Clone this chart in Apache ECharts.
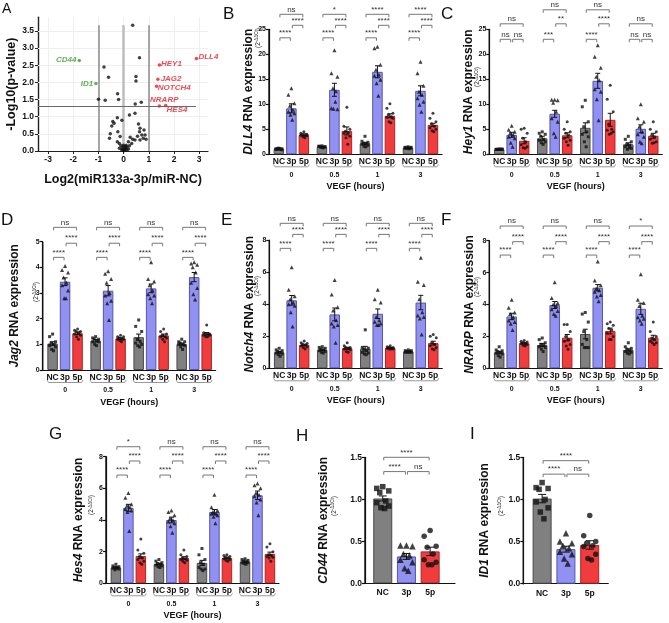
<!DOCTYPE html>
<html><head><meta charset="utf-8">
<script src="https://cdn.jsdelivr.net/npm/echarts@6/dist/echarts.min.js"></script>
<style>html,body{margin:0;padding:0;background:#fff}#c{width:669px;height:623px}</style>
</head><body><div id="c"></div>
<script>
// ---------------- DATA ----------------
const conditions = ['NC', '3p', '5p'];
const vegfHours = ['0', '0.5', '1', '3'];

// Panel A: volcano
const volcanoPoints = [[0.36,3.67],[0.63,2.72],[-0.78,2.45],[0.49,2.17],[-0.60,2.15],[0.49,2.04],[-0.24,1.67],[-1.0,1.51],[-0.73,1.48],[-0.20,1.50],[0.70,1.42],[0.46,1.37],
 [0.45,1.10],[0.23,1.05],[-0.25,0.97],[-0.07,0.90],[-0.43,0.86],[-0.38,0.81],[-0.47,0.73],[0.59,0.79],[0.65,0.66],[-0.53,0.50],[-0.23,0.56],[0.63,0.56],[0.81,0.61],
 [-0.56,0.37],[-0.14,0.42],[0.26,0.40],[0.36,0.34],[0.45,0.32],[0.72,0.47],[0.78,0.37],[0.89,0.34],[0.65,0.32],[0.19,0.27],[-0.17,0.22],[-0.01,0.17],[-0.11,0.15],
 [0.10,0.17],[0.23,0.15],[0.32,0.22],[-0.25,0.27],[-0.03,0.11],[0.06,0.08],[0.13,0.11],[0.03,0.03],[0.13,0.03],[-0.04,0.06],[0.01,0.01],[0.19,0.06],[-0.17,0.08],
 [0.85,0.47],[0.55,0.43],[0.08,0.13],[-0.08,0.04],[0.05,0.05]];
const upGenes = ['DLL4','HEY1','JAG2','NOTCH4','NRARP','HES4'];
const upLog2FC = [2.89,1.42,1.36,1.31,1.42,1.67];
const upNegLogP = [2.70,2.51,2.09,1.89,1.31,1.33];
const downGenes = ['CD44','ID1'];
const downLog2FC = [-1.76,-1.10];
const downNegLogP = [2.64,1.97];
const pThreshold = 1.3;
const fcThresholds = [-1, 0, 1];
const volcanoXTicks = [-3,-2,-1,0,1,2,3];
const volcanoYTicks = [0,0.5,1,1.5,2,2.5,3,3.5];

// Panel B: DLL4  [group][NC,3p,5p]
const dll4Mean = [[1.1,9.2,3.9],[1.5,12.9,4.67],[2.2,16.5,7.7],[1.3,12.7,5.9]];
const dll4Sem  = [[0.05,0.9,0.2],[0.06,1.3,0.8],[0.2,1.2,0.4],[0.05,1.0,0.3]];
const dll4Points = [
 [[1.2,1.1,1.1,1.0,1.0,1.0,0.9,1.2,1.1],[13.2,11.9,10.2,9.7,8.9,8.5,8.2,7.9,6.9],[4.5,4.2,4.0,3.9,3.8,3.8,3.7,3.5,3.3]],
 [[1.7,1.6,1.5,1.5,1.4,1.6,1.5,1.4,1.3],[20.8,16.2,15.5,13.2,12.6,9.2,9.0,9.1,10.5],[9.4,5.6,5.0,4.6,4.3,4.2,3.6,3.3,2.0]],
 [[3.6,2.6,2.4,2.2,2.1,2.0,1.8,1.6,1.5],[21.5,21.2,17.9,16.9,15.9,15.7,14.9,14.2,11.7],[10.1,9.2,8.2,7.9,7.5,7.4,7.2,6.5,6.3]],
 [[1.5,1.4,1.4,1.3,1.3,1.2,1.2,1.2,1.1],[18.5,16.2,13.7,12.5,11.9,11.2,10.5,9.9,8.5],[8.2,7.2,6.5,6.1,5.6,5.3,5.0,4.7,4.5]]];
const dll4Sig = [[0,0,2,28.0,'ns'],[0,1,2,25.8,'****'],[0,0,1,23.3,'****'],
 [1,0,2,28.0,'*'],[1,1,2,25.8,'****'],[1,0,1,23.3,'****'],
 [2,0,2,28.0,'****'],[2,1,2,25.8,'****'],[2,0,1,23.3,'****'],
 [3,0,2,28.0,'****'],[3,1,2,25.8,'****'],[3,0,1,23.3,'****']];

// Panel C: Hey1
const hey1Mean = [[1.0,3.9,2.7],[3.2,8.1,3.8],[5.3,14.7,6.9],[2.0,5.1,3.7]];
const hey1Sem  = [[0.03,0.5,0.6],[0.4,0.7,0.5],[1.0,1.5,1.3],[0.3,0.8,0.5]];
const hey1Points = [
 [[1.05,1.0,1.0,0.98,1.0,0.97,1.02,1.0,0.99],[5.7,4.9,4.5,4.2,3.9,3.5,3.2,2.3,1.5],[5.2,5.0,4.2,3.2,2.5,1.9,1.5,1.3,1.2]],
 [[4.5,4.2,4.0,3.6,3.0,2.8,2.5,2.3,2.0],[10.9,10.9,10.8,10.3,8.5,7.2,6.5,4.2,3.5],[6.5,5.0,4.5,4.2,3.8,3.2,2.8,2.5,1.8]],
 [[10.8,9.5,6.5,5.5,4.5,4.0,3.5,2.5,1.5],[21.8,19.5,17.3,15.5,14.8,13.0,12.5,11.0,6.8],[13.8,11.0,8.5,6.0,5.0,4.8,4.5,4.0,4.2]],
 [[3.6,3.0,2.5,2.0,1.8,1.5,1.2,1.0,1.3],[10.0,7.2,6.5,5.5,4.5,4.0,3.5,2.5,2.2],[6.5,5.0,4.5,3.8,3.5,3.0,2.5,2.2,2.3]]];
const hey1Sig = [[0,0,2,26.1,'ns'],[0,0,1,23.0,'ns'],[0,1,2,23.0,'ns'],
 [1,0,2,28.9,'ns'],[1,1,2,26.1,'**'],[1,0,1,23.0,'***'],
 [2,0,2,28.9,'ns'],[2,1,2,26.1,'****'],[2,0,1,23.0,'****'],
 [3,0,2,26.1,'ns'],[3,0,1,23.0,'ns'],[3,1,2,23.0,'ns']];

// Panel D: Jag2
const jag2Mean = [[1.03,3.44,1.43],[1.14,3.09,1.23],[1.28,3.18,1.35],[1.01,3.62,1.41]];
const jag2Sem  = [[0.07,0.15,0.05],[0.05,0.2,0.03],[0.12,0.17,0.05],[0.04,0.18,0.05]];
const jag2Points = [
 [[1.4,1.3,1.1,1.05,1.0,0.95,0.9,0.8,0.75],[4.05,3.9,3.8,3.6,3.4,3.3,3.1,2.8,2.8],[1.6,1.55,1.5,1.5,1.45,1.4,1.35,1.3,1.2]],
 [[1.3,1.25,1.2,1.2,1.15,1.1,1.1,1.0,0.95],[3.85,3.75,3.55,3.4,3.0,2.9,2.7,2.6,1.95],[1.35,1.3,1.3,1.25,1.2,1.2,1.2,1.15,1.1]],
 [[1.95,1.7,1.5,1.2,1.1,1.05,1.0,0.95,0.9],[4.2,3.55,3.45,3.3,3.1,2.95,2.9,2.8,2.6],[1.6,1.5,1.4,1.35,1.3,1.3,1.25,1.2,1.1]],
 [[1.2,1.1,1.1,1.05,1.0,1.0,0.95,0.9,0.8],[4.2,4.15,4.1,4.0,3.8,3.4,3.2,2.95,2.75],[1.75,1.45,1.4,1.4,1.4,1.35,1.35,1.3,1.3]]];
const jag2Sig = [0,1,2,3].flatMap(g => [[g,0,2,5.56,'ns'],[g,1,2,4.94,'****'],[g,0,1,4.39,'****']]);

// Panel E: Notch4
const notch4Mean = [[1.0,4.24,1.45],[1.15,3.36,1.25],[1.22,3.4,1.27],[1.05,4.1,1.57]];
const notch4Sem  = [[0.05,0.3,0.05],[0.04,0.4,0.06],[0.15,0.3,0.03],[0.02,0.45,0.12]];
const notch4Points = [
 [[1.25,1.15,1.1,1.05,1.0,0.95,0.9,0.85,0.75],[6.3,4.9,4.5,4.3,4.1,4.0,3.9,3.5,2.6],[1.7,1.6,1.55,1.5,1.45,1.4,1.35,1.3,1.2]],
 [[1.35,1.3,1.25,1.2,1.15,1.1,1.05,1.0,0.95],[5.5,4.6,3.8,3.6,3.0,2.8,2.7,2.6,1.6],[1.6,1.4,1.3,1.3,1.25,1.2,1.15,1.05,1.0]],
 [[2.4,1.3,1.25,1.2,1.1,1.0,0.95,0.9,0.85],[4.9,4.3,4.1,3.2,3.0,2.9,2.8,2.7,2.7],[1.4,1.35,1.3,1.3,1.25,1.25,1.2,1.2,1.2]],
 [[1.15,1.1,1.1,1.05,1.05,1.0,1.0,1.0,1.0],[6.9,5.4,5.2,4.3,3.5,3.3,3.2,3.1,2.1],[2.1,2.0,1.9,1.6,1.5,1.4,1.3,1.2,1.15]]];
const notch4Sig = [0,1,2,3].flatMap(g => [[g,0,2,9.04,'ns'],[g,1,2,8.35,'****'],[g,0,1,7.48,'****']]);

// Panel F: NRARP
const nrarpMean = [[1.0,3.25,1.57],[1.46,3.97,1.92],[2.15,5.05,2.34],[1.15,3.73,1.92]];
const nrarpSem  = [[0.06,0.2,0.04],[0.1,0.22,0.2],[0.3,0.2,0.18],[0.07,0.35,0.15]];
const nrarpPoints = [
 [[1.35,1.15,1.1,1.05,1.0,0.95,0.9,0.8,0.7],[4.3,3.8,3.5,3.4,3.2,3.0,2.9,2.8,2.4],[1.75,1.7,1.65,1.6,1.55,1.55,1.5,1.45,1.4]],
 [[1.9,1.8,1.6,1.5,1.45,1.35,1.3,1.2,1.05],[5.4,4.4,4.1,4.0,3.9,3.7,3.6,3.4,3.3],[2.75,2.75,2.3,2.0,1.8,1.7,1.5,1.4,1.2]],
 [[3.5,3.4,2.9,2.3,1.8,1.5,1.3,1.3,1.3],[6.7,5.5,5.2,5.0,4.9,4.8,4.6,4.5,4.2],[2.9,2.8,2.7,2.5,2.4,2.2,2.0,1.8,1.8]],
 [[1.6,1.35,1.25,1.2,1.1,1.05,1.0,0.95,0.9],[5.9,4.3,4.1,3.9,3.3,3.2,3.1,3.0,2.8],[2.9,2.3,2.0,1.9,1.8,1.7,1.6,1.6,1.5]]];
const nrarpTop = ['ns','ns','ns','*'];
const nrarpSig = [0,1,2,3].flatMap(g => [[g,0,2,8.92,nrarpTop[g]],[g,1,2,7.94,'****'],[g,0,1,7.10,'****']]);

// Panel G: Hes4
const hes4Mean = [[1.0,4.77,1.72],[1.22,4.0,1.6],[1.29,4.51,1.6],[1.37,5.56,1.86]];
const hes4Sem  = [[0.04,0.22,0.14],[0.05,0.18,0.08],[0.16,0.15,0.05],[0.04,0.27,0.11]];
const hes4Points = [
 [[1.2,1.1,1.05,1.0,1.0,0.95,0.9,0.85,0.95],[5.7,5.4,5.0,4.9,4.8,4.7,4.6,4.5,3.3],[2.8,2.1,1.9,1.7,1.6,1.5,1.4,1.3,1.2]],
 [[1.5,1.4,1.3,1.25,1.2,1.15,1.1,1.05,1.0],[4.6,4.5,4.3,4.1,4.0,3.9,3.8,3.6,3.2],[2.1,1.8,1.7,1.6,1.55,1.5,1.45,1.4,1.3]],
 [[2.2,1.8,1.5,1.3,1.2,1.0,0.9,0.9,0.8],[5.6,4.8,4.6,4.5,4.4,4.4,4.3,4.2,3.8],[1.8,1.75,1.7,1.65,1.6,1.55,1.5,1.45,1.4]],
 [[1.55,1.5,1.45,1.4,1.35,1.3,1.3,1.25,1.2],[6.3,6.2,6.0,5.7,5.6,5.5,5.3,5.1,4.3],[2.5,2.3,2.0,1.8,1.75,1.7,1.65,1.6,1.4]]];
const hes4Top = ['*','ns','ns','ns'];
const hes4Sig = [0,1,2,3].flatMap(g => [[g,0,2,8.63,hes4Top[g]],[g,1,2,7.73,'****'],[g,0,1,6.84,'****']]);

// Panel H: CD44
const cd44Mean = [1.01,0.32,0.38];
const cd44Sem  = [0.03,0.035,0.05];
const cd44Points = [[1.15,1.13,1.1,1.08,0.98,0.96,0.92,0.9,0.89],[0.45,0.45,0.44,0.35,0.33,0.28,0.25,0.18,0.15],[0.63,0.56,0.44,0.43,0.35,0.28,0.25,0.22,0.22]];
const cd44Sig = [[0,0,2,1.5,'****'],[0,0,1,1.33,'****'],[0,1,2,1.33,'ns']];

// Panel I: ID1
const id1Mean = [1.01,0.41,0.46];
const id1Sem  = [0.05,0.035,0.05];
const id1Points = [[1.2,1.14,1.13,1.12,1.0,0.97,0.9,0.85,0.77],[0.6,0.5,0.48,0.45,0.42,0.38,0.35,0.3,0.24],[0.81,0.57,0.5,0.48,0.45,0.44,0.35,0.3,0.28]];
const id1Sig = [[0,0,2,1.46,'****'],[0,0,1,1.30,'****'],[0,1,2,1.30,'ns']];

// ---------------- STYLE ----------------
const FONT = "'Liberation Sans', Arial, Helvetica, sans-serif";
const fills = ['#808080', '#9191f2', '#f03c3c'];
const borders = ['#4a4a4a', '#5555aa', '#a82626'];
const symbols = ['rect', 'triangle', 'circle'];
const jit = [0, -1, 1, -0.5, 0.5, -1, 1, -0.3, 0.3];
const BAR_STEP = 0.29;

const option = {animation: false, textStyle: {fontFamily: FONT}, grid: [], xAxis: [], yAxis: [], series: [], graphic: []};

function nearestLabel(v, vals, labels) {
  let bi = 0, bd = 1e9;
  vals.forEach((u, i) => { const d = Math.abs(u - v); if (d < bd) { bd = d; bi = i; } });
  return labels[bi];
}

function addBarPanel(p) {
  const gi = option.grid.length, xi = option.xAxis.length, yi = option.yAxis.length;
  option.grid.push({left: p.left, top: p.top, width: p.width, height: p.height});
  const grouped = !!p.groups;
  const nG = grouped ? p.groups.length : 1;
  const xOf = (g, c) => grouped ? g + (c - 1) * BAR_STEP : c;
  const pos = [], lab = [];
  for (let g = 0; g < nG; g++) for (let c = 0; c < 3; c++) { pos.push(xOf(g, c)); lab.push(conditions[c]); }
  const unitPerPx = (p.xMax - p.xMin) / p.width;
  option.xAxis.push({type: 'value', gridIndex: gi, min: p.xMin, max: p.xMax, position: 'bottom',
    axisLine: {show: true, onZero: false, lineStyle: {color: '#111', width: 1.2}},
    axisTick: {show: false}, splitLine: {show: false},
    axisLabel: {customValues: pos, formatter: v => nearestLabel(v, pos, lab), fontSize: p.xLabelSize, fontWeight: 'bold', color: '#111', margin: p.xLabelMargin, showMinLabel: true, showMaxLabel: true}});
  if (grouped) {
    const gc = p.groups.map((_, g) => g);
    option.xAxis.push({type: 'value', gridIndex: gi, min: p.xMin, max: p.xMax, position: 'bottom', offset: 13,
      axisLine: {show: false, onZero: false}, axisTick: {show: false}, splitLine: {show: false},
      axisLabel: {customValues: gc, formatter: v => p.groups[Math.round(v)], fontSize: 7, fontWeight: 'bold', color: '#111', margin: 4},
      name: 'VEGF (hours)', nameLocation: 'middle', nameGap: 15,
      nameTextStyle: {fontSize: 9, fontWeight: 'bold', color: '#111'}});
  }
  option.yAxis.push({type: 'value', gridIndex: gi, min: 0, max: p.yMax, interval: p.yInterval, position: 'left',
    axisLine: {show: true, onZero: false, lineStyle: {color: '#111', width: 1.2}},
    axisTick: {show: true, length: 3, lineStyle: {color: '#111', width: 1.2}}, splitLine: {show: false},
    axisLabel: {fontSize: p.yLabelSize, fontWeight: 'bold', color: '#111', margin: 3, formatter: p.yFmt},
    name: '{i|' + p.gene + '} RNA expression', nameLocation: 'middle', nameGap: p.nameGap,
    nameTextStyle: {fontSize: 12, fontWeight: 'bold', color: '#111', rich: {i: {fontSize: 12, fontWeight: 'bold', fontStyle: 'italic', color: '#111'}}}});
  const means = grouped ? p.means : [p.means];
  const sems = grouped ? p.sems : [p.sems];
  const pts = grouped ? p.points : [p.points];
  const barData = [], errData = [];
  for (let g = 0; g < nG; g++) for (let c = 0; c < 3; c++) {
    barData.push({value: [xOf(g, c), means[g][c]], itemStyle: {color: fills[c], borderColor: borders[c], borderWidth: 1}});
    errData.push([xOf(g, c), means[g][c], sems[g][c]]);
  }
  option.series.push({type: 'bar', xAxisIndex: xi, yAxisIndex: yi, barWidth: p.barW, data: barData, z: 2, silent: true});
  // value-axis spine along the plot's left edge, placed through the axis scale
  option.series.push({type: 'custom', xAxisIndex: xi, yAxisIndex: yi, clip: false, silent: true, z: 6,
    data: [[p.xMin, 0]],
    renderItem: (params, api) => {
      const b = api.coord([p.xMin, 0]), t = api.coord([p.xMin, p.yMax]);
      return {type: 'line', shape: {x1: b[0], y1: b[1] + 0.5, x2: t[0], y2: t[1]}, style: {stroke: '#111', lineWidth: 1.4}};
    }});
  const cap = p.capPx;
  option.series.push({type: 'custom', xAxisIndex: xi, yAxisIndex: yi, clip: false, silent: true, z: 3, data: errData,
    renderItem: (params, api) => {
      const x = api.value(0), m = api.value(1), s = api.value(2);
      const t = api.coord([x, m + s]), b = api.coord([x, m - s]);
      const st = {stroke: '#111', lineWidth: 1};
      return {type: 'group', children: [
        {type: 'line', shape: {x1: t[0], y1: t[1], x2: b[0], y2: b[1]}, style: st},
        {type: 'line', shape: {x1: t[0] - cap, y1: t[1], x2: t[0] + cap, y2: t[1]}, style: st},
        {type: 'line', shape: {x1: b[0] - cap, y1: b[1], x2: b[0] + cap, y2: b[1]}, style: st}]};
    }});
  for (let c = 0; c < 3; c++) {
    const d = [];
    for (let g = 0; g < nG; g++) pts[g][c].forEach((v, i) => d.push([xOf(g, c) + jit[i % jit.length] * p.spreadPx * unitPerPx, v]));
    option.series.push({type: 'scatter', xAxisIndex: xi, yAxisIndex: yi, symbol: symbols[c],
      symbolSize: c === 1 ? p.ptSize + 1 : p.ptSize, itemStyle: {color: '#111'}, data: d, z: 4, silent: true});
  }
  const sigTexts = p.sig.map(s => s[4]);
  option.series.push({type: 'custom', xAxisIndex: xi, yAxisIndex: yi, clip: false, silent: true, z: 5,
    data: p.sig.map(s => { const x1 = xOf(s[0], s[1]), x2 = xOf(s[0], s[2]); return [(x1 + x2) / 2, s[3], x1, x2]; }),
    renderItem: (params, api) => {
      const a = api.coord([api.value(2), api.value(1)]), b = api.coord([api.value(3), api.value(1)]);
      const y = a[1], x1 = a[0] + 1, x2 = b[0] - 1, tk = 3;
      return {type: 'group', children: [
        {type: 'polyline', shape: {points: [[x1, y + tk], [x1, y], [x2, y], [x2, y + tk]]}, style: {stroke: '#777', fill: null, lineWidth: 1}},
        {type: 'text', x: (x1 + x2) / 2, y: y - 1, style: {text: sigTexts[params.dataIndex], fontSize: p.sigFont, fontFamily: FONT, fill: '#333', align: 'center', verticalAlign: 'bottom'}}]};
    }});
  if (grouped) {
    option.series.push({type: 'custom', xAxisIndex: xi, yAxisIndex: yi, clip: false, silent: true, z: 5,
      data: p.groups.map((_, g) => [g, 0]),
      renderItem: (params, api) => {
        const c = api.coord([api.value(0), 0]);
        const hw = 18, y = c[1] + 12.5;
        return {type: 'polyline', shape: {points: [[c[0] - hw, y - 2.5], [c[0] - hw + 1.5, y], [c[0] + hw - 1.5, y], [c[0] + hw, y - 2.5]]}, style: {stroke: '#999', fill: null, lineWidth: 1}};
      }});
  }
  if (p.sub) {
    option.graphic.push({type: 'text', x: p.sub[0], y: p.sub[1], rotation: Math.PI / 2,
      style: {text: '(2{s|-ΔΔCt})', fontSize: 6.5, fontFamily: FONT, fill: '#222', align: 'center', verticalAlign: 'middle',
        rich: {s: {fontSize: 4.5, fontFamily: FONT, fill: '#222', verticalAlign: 'top'}}}});
  }
}

// ---------------- PANEL A ----------------
(function () {
  const gi = option.grid.length, xi = option.xAxis.length, yi = option.yAxis.length;
  option.grid.push({left: 38, top: 17.3, width: 170, height: 133.7});
  option.xAxis.push({type: 'value', gridIndex: gi, min: -3.4, max: 3.35,
    axisLine: {show: true, onZero: false, lineStyle: {color: '#222', width: 1.2}},
    axisTick: {show: true, length: 3, customValues: volcanoXTicks, lineStyle: {color: '#222'}},
    axisLabel: {customValues: volcanoXTicks, fontSize: 8.5, fontWeight: 'bold', color: '#111', margin: 4},
    splitLine: {show: false},
    name: 'Log2(miR133a-3p/miR-NC)', nameLocation: 'middle', nameGap: 22,
    nameTextStyle: {fontSize: 12.5, fontWeight: 'bold', color: '#111'}});
  option.yAxis.push({type: 'value', gridIndex: gi, min: 0, max: 3.9,
    axisLine: {show: true, onZero: false, lineStyle: {color: '#222', width: 1.4}},
    axisTick: {show: true, length: 3, customValues: volcanoYTicks, lineStyle: {color: '#222'}},
    axisLabel: {customValues: volcanoYTicks, formatter: v => v.toFixed(1), fontSize: 8.5, fontWeight: 'bold', color: '#111', margin: 4},
    splitLine: {show: false},
    name: '-Log10(p-value)', nameLocation: 'middle', nameGap: 17,
    nameTextStyle: {fontSize: 12.5, fontWeight: 'bold', color: '#111'}});
  const fl = {show: false};
  option.series.push({type: 'scatter', xAxisIndex: xi, yAxisIndex: yi, data: volcanoPoints, symbolSize: 3.5,
    itemStyle: {color: '#111'}, z: 4, silent: true,
    markLine: {silent: true, symbol: ['none', 'none'], label: fl, z: 1, animation: false,
      lineStyle: {color: '#efefef', width: 1, type: 'solid'},
      data: [...volcanoXTicks.map(v => ({xAxis: v})), ...volcanoYTicks.filter(v => v > 0).map(v => ({yAxis: v}))]}});
  option.series.push({type: 'scatter', xAxisIndex: xi, yAxisIndex: yi, data: [], silent: true,
    markLine: {silent: true, symbol: ['none', 'none'], label: fl, animation: false, z: 2,
      data: [
        ...fcThresholds.map(v => [{coord: [v, 0], lineStyle: {color: v === 0 ? '#bdbdbd' : '#8c8c8c', width: v === 0 ? 2.5 : 1.5, type: 'solid'}}, {coord: [v, 3.67]}]),
        [{coord: [-3.4, pThreshold], lineStyle: {color: '#6a6a6a', width: 1, type: 'solid'}}, {coord: [2.87, pThreshold]}]
      ]}});
  const upOffsets = [[12, -1.6], [12, -0.7], [13.2, -1], [17.6, 1.3], [4.9, -6], [11.3, 4.7]];
  const downOffsets = [[-13.2, -0.3], [-8.9, 0]];
  const lbl = (col) => ({show: true, position: 'inside', formatter: '{b}', fontSize: 8, fontWeight: 'bold', fontStyle: 'italic', color: col, fontFamily: FONT});
  option.series.push({type: 'scatter', xAxisIndex: xi, yAxisIndex: yi, symbolSize: 3.5, itemStyle: {color: '#e4202a'}, z: 5, silent: true,
    label: lbl('#e4202a'),
    data: upGenes.map((n, i) => ({name: n, value: [upLog2FC[i], upNegLogP[i]], label: {offset: upOffsets[i]}}))});
  option.series.push({type: 'scatter', xAxisIndex: xi, yAxisIndex: yi, symbolSize: 3.5, itemStyle: {color: '#3a9e2c'}, z: 5, silent: true,
    label: lbl('#3a9e2c'),
    data: downGenes.map((n, i) => ({name: n, value: [downLog2FC[i], downNegLogP[i]], label: {offset: downOffsets[i]}}))});
})();

// ---------------- PANELS B-I ----------------
const groupedBase = {width: 173, xMin: -0.52, xMax: 3.5, groups: vegfHours, barW: 10.5, capPx: 2.5, ptSize: 3, spreadPx: 3,
  xLabelSize: 8.5, xLabelMargin: 3, yLabelSize: 7, sigFont: 8};
addBarPanel(Object.assign({}, groupedBase, {gene: 'DLL4', left: 269, top: 29.3, height: 125, yMax: 25, yInterval: 5, nameGap: 14,
  means: dll4Mean, sems: dll4Sem, points: dll4Points, sig: dll4Sig, sub: [258, 38]}));
addBarPanel(Object.assign({}, groupedBase, {gene: 'Hey1', left: 489.3, top: 29.3, height: 125, yMax: 25, yInterval: 5, nameGap: 14,
  means: hey1Mean, sems: hey1Sem, points: hey1Points, sig: hey1Sig, sub: [477.3, 77]}));
addBarPanel(Object.assign({}, groupedBase, {gene: 'Jag2', left: 42.7, top: 241.7, height: 128.3, yMax: 5, yInterval: 1, nameGap: 22,
  means: jag2Mean, sems: jag2Sem, points: jag2Points, sig: jag2Sig, sub: [35.8, 292]}));
addBarPanel(Object.assign({}, groupedBase, {gene: 'Notch4', left: 269.3, top: 240, height: 128.3, yMax: 8, yInterval: 2, nameGap: 14,
  means: notch4Mean, sems: notch4Sem, points: notch4Points, sig: notch4Sig, sub: [257.3, 286]}));
addBarPanel(Object.assign({}, groupedBase, {gene: 'NRARP', left: 489.3, top: 240.7, height: 127.6, yMax: 8, yInterval: 2, nameGap: 14,
  means: nrarpMean, sems: nrarpSem, points: nrarpPoints, sig: nrarpSig, sub: [477.3, 287]}));
addBarPanel(Object.assign({}, groupedBase, {gene: 'Hes4', left: 106, top: 456.7, height: 126.6, yMax: 8, yInterval: 2, nameGap: 21,
  means: hes4Mean, sems: hes4Sem, points: hes4Points, sig: hes4Sig, sub: [91.7, 505]}));
const singleBase = {groups: null, barW: 19, capPx: 4, ptSize: 5.5, spreadPx: 6, xLabelSize: 8.5, xLabelMargin: 5, yLabelSize: 8.5,
  sigFont: 8, yMax: 1.5, yInterval: 0.5, yFmt: v => v.toFixed(1)};
addBarPanel(Object.assign({}, singleBase, {gene: 'CD44', left: 365, top: 457.3, width: 90, height: 126, xMin: -0.75, xMax: 3.05, nameGap: 35,
  means: cd44Mean, sems: cd44Sem, points: cd44Points, sig: cd44Sig, sub: [334, 506]}));
addBarPanel(Object.assign({}, singleBase, {gene: 'ID1', left: 523.3, top: 457.3, width: 85, height: 126.4, xMin: -0.79, xMax: 2.78, nameGap: 33,
  means: id1Mean, sems: id1Sem, points: id1Points, sig: id1Sig, sub: [501, 506]}));

// panel letters
[['A', 2, 2, 14], ['B', 223, 6, 17], ['C', 441, 6, 17], ['D', 1, 212, 17], ['E', 221, 212, 17], ['F', 441, 212, 17],
 ['G', 49, 426, 17], ['H', 296, 428, 17], ['I', 470, 426, 17]].forEach(l => {
  option.graphic.push({type: 'text', x: l[1], y: l[2], style: {text: l[0], fontSize: l[3], fontFamily: FONT, fill: '#111', align: 'left', verticalAlign: 'top'}});
});

const chart = echarts.init(document.getElementById('c'), null, {renderer: 'canvas'});
chart.setOption(option);
</script></body></html>
